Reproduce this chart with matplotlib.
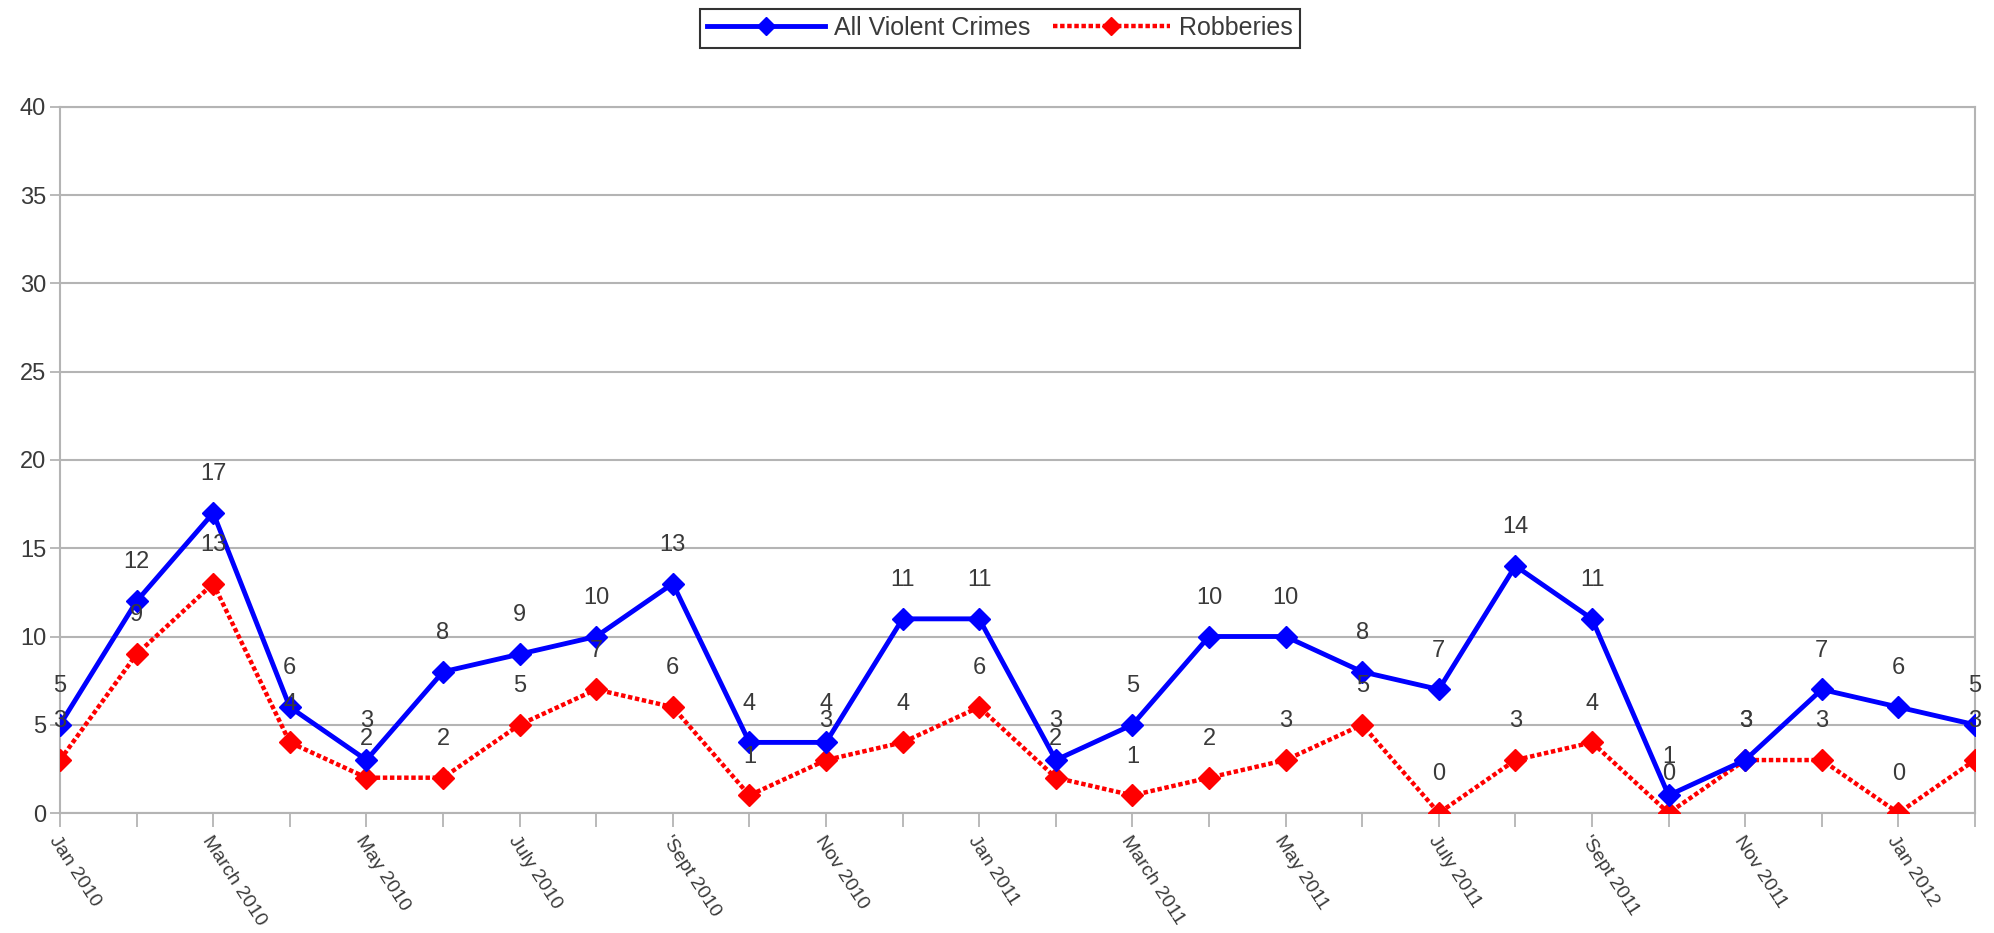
import matplotlib.pyplot as plt
from matplotlib.lines import Line2D

# --- DATA ---
months = ["Jan 2010", "Feb 2010", "March 2010", "Apr 2010", "May 2010", "June 2010",
          "July 2010", "Aug 2010", "'Sept 2010", "Oct 2010", "Nov 2010", "Dec 2010",
          "Jan 2011", "Feb 2011", "March 2011", "Apr 2011", "May 2011", "June 2011",
          "July 2011", "Aug 2011", "'Sept 2011", "Oct 2011", "Nov 2011", "Dec 2011",
          "Jan 2012", "Feb 2012"]
violent = [5, 12, 17, 6, 3, 8, 9, 10, 13, 4, 4, 11, 11, 3, 5, 10, 10, 8, 7, 14, 11, 1, 3, 7, 6, 5]
robberies = [3, 9, 13, 4, 2, 2, 5, 7, 6, 1, 3, 4, 6, 2, 1, 2, 3, 5, 0, 3, 4, 0, 3, 3, 0, 3]

TEXT = '#3a3a3a'
GRID = '#b4b4b4'
DOTS = (0, (1, 0.6))

plt.rcParams['font.family'] = ['Liberation Sans', 'DejaVu Sans']

fig = plt.figure(figsize=(19.94, 9.33), dpi=100)
ax = fig.add_axes([60 / 1994, 1 - 813 / 933, (1975 - 60) / 1994, (813 - 107) / 933])

x = list(range(len(months)))

# --- lines ---
ax.plot(x, violent, color='#0000ff', lw=3.5, marker='D', markersize=11, zorder=4)
ax.plot(x, robberies, color='#ff0000', lw=3.2, ls=DOTS, marker='D', markersize=11, zorder=3)

# --- data labels (drawn above each point) ---
for series in (violent, robberies):
    for xi, v in zip(x, series):
        ax.annotate(str(v), (xi, v), xytext=(0, 20), textcoords='offset points',
                    ha='center', va='bottom', fontsize=17, color=TEXT, zorder=5)

# --- axes ---
ax.set_xlim(0, len(months) - 1)
ax.set_ylim(0, 40)
ax.set_yticks(range(0, 41, 5))
ax.yaxis.grid(True, color=GRID, lw=1.5)
ax.set_axisbelow(True)

ax.set_xticks(x)
ax.set_xticklabels([m if i % 2 == 0 else '' for i, m in enumerate(months)],
                   rotation=-57, ha='left', va='top', rotation_mode='anchor')
ax.tick_params(axis='x', length=10, color=GRID, width=1.3, labelsize=14, labelcolor=TEXT, pad=4)
ax.tick_params(axis='y', length=7, color=GRID, width=1.3, labelsize=17, labelcolor=TEXT, pad=3)
for s in ax.spines.values():
    s.set_color(GRID)
    s.set_linewidth(1.5)

# --- legend ---
handles = [
    Line2D([], [], color='#0000ff', lw=3.5, marker='D', markersize=9),
    Line2D([], [], color='#ff0000', lw=3.2, ls=DOTS, marker='D', markersize=9),
]
leg = fig.legend(handles, ["All Violent Crimes", "Robberies"], loc='center',
                 bbox_to_anchor=(1000 / 1994, 1 - 28 / 933), ncol=2, fontsize=18,
                 frameon=True, fancybox=False, handlelength=4.7, columnspacing=0.9,
                 borderpad=0.3, handletextpad=0.35, labelcolor=TEXT)
leg.get_frame().set_edgecolor('black')
leg.get_frame().set_linewidth(1.5)

fig.savefig('out.png', dpi=100)
